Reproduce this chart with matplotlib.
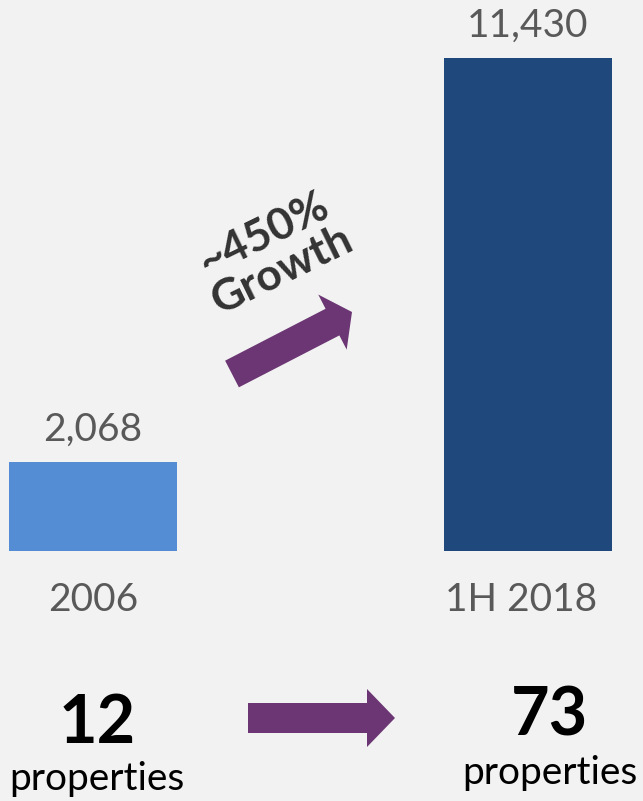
import matplotlib.pyplot as plt
from matplotlib.patches import FancyArrow

categories = ["2006", "1H 2018"]
values = [2068, 11430]
value_labels = ["2,068", "11,430"]
properties = [12, 73]
growth_text = "~450%\nGrowth"

bg = "#f2f2f2"
bar_colors = ["#548dd4", "#1f497d"]
purple = "#6b3673"
gray = "#595959"

plt.rcParams["font.family"] = ["Lato", "DejaVu Sans"]

fig = plt.figure(figsize=(6.43, 8.01), dpi=100, facecolor=bg)
W, H = 643, 801

# bar axes: baseline at y=551 px from top, tallest bar top at 58 px
base_px = 551
ax = fig.add_axes([0, (H - base_px) / H, 1, base_px / H])
ax.set_facecolor(bg)
ax.set_xlim(-93 / 435, 1 + (W - 528) / 435)
ax.set_ylim(0, values[1] * base_px / (base_px - 58))
ax.axis("off")

x = range(len(categories))
bars = ax.bar(x, values, width=168 / 435, color=bar_colors)
for b, lab in zip(bars, value_labels):
    ax.annotate(lab, (b.get_x() + b.get_width() / 2, b.get_height()),
                xytext=(0, 10), textcoords="offset points",
                ha="center", va="bottom", fontsize=28, color=gray)

# overlay in pixel coordinates for text and arrows
ov = fig.add_axes([0, 0, 1, 1], facecolor="none")
ov.set_xlim(0, W)
ov.set_ylim(H, 0)
ov.axis("off")

for xc, cat in zip([93, 521], categories):
    ov.text(xc, 600, cat, ha="center", va="center", fontsize=28, color=gray)

ov.text(273, 252, growth_text, ha="center", va="center", fontsize=32,
        fontweight="bold", color="#333333", rotation=26, linespacing=1.0,
        multialignment="center")

ov.add_patch(FancyArrow(232, 374, 120, -62, width=30, head_width=62,
                        head_length=22, length_includes_head=True,
                        color=purple, lw=0))
ov.add_patch(FancyArrow(248, 718, 147, 0, width=30, head_width=58,
                        head_length=28, length_includes_head=True,
                        color=purple, lw=0))

for xc, yn, yp, n in zip([97, 550], [724, 716], [779, 773], properties):
    ov.text(xc, yn, str(n), ha="center", va="center", fontsize=48,
            fontweight="bold", color="black")
    ov.text(xc, yp, "properties", ha="center", va="center", fontsize=28,
            color="black")

fig.savefig("out.png", dpi=100, facecolor=bg)
